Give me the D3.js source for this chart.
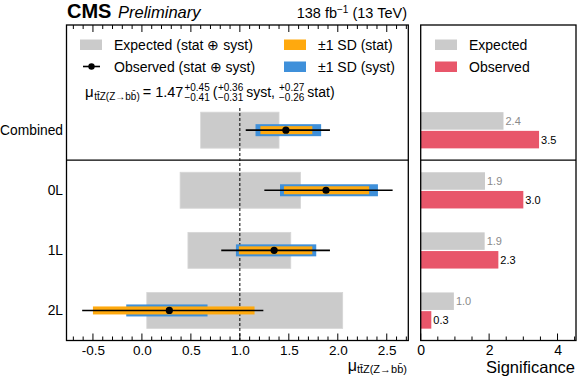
<!DOCTYPE html>
<html><head><meta charset="utf-8">
<script src="https://cdn.jsdelivr.net/npm/d3@7"></script>
<style>body{margin:0;background:#fff}svg{display:block}text{font-family:"Liberation Sans",Arial,sans-serif}</style>
</head><body><svg id="c" width="580" height="381"></svg>
<script>
// ---- data ----
const categories = ["Combined", "0L", "1L", "2L"];
const expLow  = [0.60, 0.39, 0.47, 0.05];   // expected mu=1 band, lower edge
const expHigh = [1.40, 1.62, 1.52, 2.05];   // expected band, upper edge
const obsMu   = [1.47, 1.88, 1.35, 0.28];
const obsTotLo = [1.06, 1.25, 0.81, -0.61];
const obsTotHi = [1.92, 2.56, 1.92, 1.24];
const obsSystLo = [1.16, 1.41, 0.96, -0.16];
const obsSystHi = [1.83, 2.41, 1.78, 0.67];
const obsStatLo = [1.21, 1.45, 0.99, -0.50];
const obsStatHi = [1.74, 2.32, 1.74, 1.15];
const sigExpected = [2.42, 1.88, 1.87, 0.97];
const sigObserved = [3.46, 3.00, 2.27, 0.31];
const muTicks = [-0.5, 0.0, 0.5, 1.0, 1.5, 2.0, 2.5];
const sigTicks = [0, 2, 4];

const svg = d3.select("#c");
const F = '"Liberation Sans",Arial,sans-serif';
const cGrey = "#cbcbcb", cOrange = "#ffa90e", cBlue = "#3f90da", cRed = "#e8566a";

const L = {x0: 66.5, x1: 408.3, y0: 25, y1: 340.5};
const R = {x0: 420.7, x1: 576, y0: 25, y1: 340.5};
const x = d3.scaleLinear().domain([-0.77, 2.72]).range([L.x0, L.x1]);
const xs = d3.scaleLinear().domain([0, 4.54]).range([R.x0, R.x1]);
const y = d3.scaleLinear().domain([-1.75, 3.5]).range([L.y0, L.y1]);
const idx = d3.range(categories.length);

// ---- left panel ----
const gl = svg.append("g");
gl.selectAll("rect.exp").data(idx).join("rect")
  .attr("x", i => x(expLow[i])).attr("width", i => x(expHigh[i]) - x(expLow[i]))
  .attr("y", i => y(i) - 18).attr("height", 36)
  .attr("fill", cGrey).attr("stroke", "#d6d6d6").attr("stroke-width", 0.8);
gl.append("line").attr("x1", x(1)).attr("x2", x(1)).attr("y1", 108).attr("y2", L.y1)
  .attr("stroke", "#000").attr("stroke-width", 1).attr("stroke-dasharray", "3,2");
gl.selectAll("rect.syst").data(idx).join("rect")
  .attr("x", i => x(obsSystLo[i])).attr("width", i => x(obsSystHi[i]) - x(obsSystLo[i]))
  .attr("y", i => y(i) - 6).attr("height", 12).attr("fill", cBlue);
gl.selectAll("rect.stat").data(idx).join("rect")
  .attr("x", i => x(obsStatLo[i])).attr("width", i => x(obsStatHi[i]) - x(obsStatLo[i]))
  .attr("y", i => y(i) - 4).attr("height", 8).attr("fill", cOrange);
gl.selectAll("line.tot").data(idx).join("line")
  .attr("x1", i => x(obsTotLo[i])).attr("x2", i => x(obsTotHi[i]))
  .attr("y1", i => y(i)).attr("y2", i => y(i))
  .attr("stroke", "#000").attr("stroke-width", 1.6);
gl.selectAll("circle.obs").data(idx).join("circle")
  .attr("cx", i => x(obsMu[i])).attr("cy", i => y(i)).attr("r", 3.6).attr("fill", "#000");

function tickSet(g, scale, vals, len, top) {
  g.selectAll(null).data(vals).join("line")
    .attr("x1", d => scale(d)).attr("x2", d => scale(d))
    .attr("y1", top ? L.y0 : L.y1).attr("y2", top ? L.y0 + len : L.y1 - len)
    .attr("stroke", "#000").attr("stroke-width", 1);
}
const minorL = d3.range(-7, 28).map(d => d / 10).filter(d => Math.abs(Math.round(d * 2) - d * 2) > 1e-6);
tickSet(gl, x, muTicks, 7, false); tickSet(gl, x, minorL, 4, false);
tickSet(gl, x, muTicks, 7, true); tickSet(gl, x, minorL, 4, true);
const axL = d3.axisBottom(x).tickValues(muTicks).tickSize(0).tickPadding(0).tickFormat(d => d.toFixed(1));
const gaxL = gl.append("g").attr("transform", `translate(0,${L.y1})`).call(axL);
gaxL.select(".domain").remove();
gaxL.selectAll("text").attr("font-family", F).attr("font-size", 13.5).attr("fill", "#000").attr("dy", "1.05em");

gl.append("line").attr("x1", L.x0).attr("x2", L.x1).attr("y1", y(0.5)).attr("y2", y(0.5)).attr("stroke", "#000").attr("stroke-width", 1.3);
gl.append("rect").attr("x", L.x0).attr("y", L.y0).attr("width", L.x1 - L.x0).attr("height", L.y1 - L.y0)
  .attr("fill", "none").attr("stroke", "#000").attr("stroke-width", 1.3);

svg.selectAll("text.cat").data(idx).join("text")
  .attr("x", 63).attr("y", i => y(i)).attr("dy", "0.36em").attr("text-anchor", "end")
  .attr("font-size", 13.8).attr("font-family", F).text(i => categories[i]);

// ---- right panel ----
const gr = svg.append("g");
gr.selectAll("rect.se").data(idx).join("rect")
  .attr("x", xs(0)).attr("width", i => xs(sigExpected[i]) - xs(0))
  .attr("y", i => y(i) - 18).attr("height", 17.5).attr("fill", cGrey);
gr.selectAll("rect.so").data(idx).join("rect")
  .attr("x", xs(0)).attr("width", i => xs(sigObserved[i]) - xs(0))
  .attr("y", i => y(i) + 0.7).attr("height", 17.5).attr("fill", cRed);
gr.selectAll("text.le").data(idx).join("text")
  .attr("x", i => xs(sigExpected[i]) + 2).attr("y", i => y(i) - 9).attr("dy", "0.36em")
  .attr("font-size", 11).attr("fill", "#8a8a8a").attr("font-family", F).text(i => d3.format(".1f")(sigExpected[i]));
gr.selectAll("text.lo").data(idx).join("text")
  .attr("x", i => xs(sigObserved[i]) + 2).attr("y", i => y(i) + 9.5).attr("dy", "0.36em")
  .attr("font-size", 11).attr("fill", "#000").attr("font-family", F).text(i => d3.format(".1f")(sigObserved[i]));
const minorR = d3.range(1, 10).map(d => d / 2).filter(d => d % 2 !== 0 && d < 4.54);
gr.selectAll(null).data(sigTicks).join("line").attr("x1", d => xs(d)).attr("x2", d => xs(d))
  .attr("y1", R.y1).attr("y2", R.y1 - 7).attr("stroke", "#000");
gr.selectAll(null).data(minorR).join("line").attr("x1", d => xs(d)).attr("x2", d => xs(d))
  .attr("y1", R.y1).attr("y2", R.y1 - 4).attr("stroke", "#000");
const axR = d3.axisBottom(xs).tickValues(sigTicks).tickSize(0).tickPadding(0).tickFormat(d3.format("d"));
const gaxR = gr.append("g").attr("transform", `translate(0,${R.y1})`).call(axR);
gaxR.select(".domain").remove();
gaxR.selectAll("text").attr("font-family", F).attr("font-size", 14).attr("fill", "#000").attr("dy", "1.0em");
gr.append("line").attr("x1", R.x0).attr("x2", R.x1).attr("y1", y(0.5)).attr("y2", y(0.5)).attr("stroke", "#000").attr("stroke-width", 1.3);
gr.append("rect").attr("x", R.x0).attr("y", R.y0).attr("width", R.x1 - R.x0).attr("height", R.y1 - R.y0)
  .attr("fill", "none").attr("stroke", "#000").attr("stroke-width", 1.3);

// ---- legends ----
function legBox(x0, y0, col, label) {
  svg.append("rect").attr("x", x0).attr("y", y0).attr("width", 22).attr("height", 10.5).attr("fill", col);
  svg.append("text").attr("x", x0 + 34).attr("y", y0 + 10.5).attr("font-size", 14).attr("font-family", F).text(label);
}
legBox(80, 39.5, cGrey, "Expected (stat \u2295 syst)");
legBox(284, 39.5, cOrange, "\u00b11 SD (stat)");
legBox(284, 61.5, cBlue, "\u00b11 SD (syst)");
legBox(435, 39.5, cGrey, "Expected");
legBox(435, 61.5, cRed, "Observed");
svg.append("line").attr("x1", 83).attr("x2", 100).attr("y1", 66.5).attr("y2", 66.5).attr("stroke", "#000").attr("stroke-width", 1.6);
svg.append("circle").attr("cx", 91.5).attr("cy", 66.5).attr("r", 3.2);
svg.append("text").attr("x", 114).attr("y", 72).attr("font-size", 14).attr("font-family", F).text("Observed (stat \u2295 syst)");

// ---- formula ----
function seq(x0, yb, parts) {
  let cx = x0;
  parts.forEach(p => {
    if (p.stack) {
      const a = svg.append("text").attr("x", cx).attr("y", yb - 6).attr("font-size", 10).attr("font-family", F).text(p.stack[0]);
      const b = svg.append("text").attr("x", cx).attr("y", yb + 4).attr("font-size", 10).attr("font-family", F).text(p.stack[1]);
      cx += Math.max(a.node().getComputedTextLength(), b.node().getComputedTextLength()) + (p.gap || 0);
    } else {
      const t = svg.append("text").attr("x", cx).attr("y", yb + (p.dy || 0)).attr("font-size", p.fs || 14)
        .attr("font-family", F).text(p.t);
      cx += t.node().getComputedTextLength() + (p.gap || 0);
    }
  });
  return cx;
}
seq(85, 97, [
  {t: "\u03bc", fs: 15, gap: 0.5},
  {t: "tt\u0304Z(Z\u2192bb\u0304)", fs: 10, dy: 3, gap: 3},
  {t: "= 1.47", fs: 14.5, gap: 1},
  {stack: ["+0.45", "\u22120.41"], gap: 3},
  {t: "(", gap: 0.5},
  {stack: ["+0.36", "\u22120.31"], gap: 3},
  {t: "syst,", gap: 4},
  {stack: ["+0.27", "\u22120.26"], gap: 3},
  {t: "stat)"}
]);

// ---- header ----
svg.append("text").attr("x", 67).attr("y", 18).attr("font-size", 20).attr("font-weight", "bold").attr("font-family", F).text("CMS");
svg.append("text").attr("x", 118).attr("y", 18).attr("font-size", 16.5).attr("font-style", "italic").attr("font-family", F).text("Preliminary");
const hdr = svg.append("text").attr("x", 407).attr("y", 18).attr("text-anchor", "end").attr("font-size", 14.5).attr("font-family", F);
hdr.append("tspan").text("138 fb");
hdr.append("tspan").attr("font-size", 10).attr("dy", -5).text("\u22121");
hdr.append("tspan").attr("dy", 5).text(" (13 TeV)");

// ---- axis titles ----
const xt = svg.append("text").attr("x", 407).attr("y", 371).attr("text-anchor", "end").attr("font-family", F);
xt.append("tspan").attr("font-size", 16).text("\u03bc");
xt.append("tspan").attr("font-size", 11).attr("dy", 2).text("tt\u0304Z(Z\u2192bb\u0304)");
svg.append("text").attr("x", 575).attr("y", 373).attr("text-anchor", "end").attr("font-size", 16.5).attr("font-family", F).text("Significance");
</script></body></html>
